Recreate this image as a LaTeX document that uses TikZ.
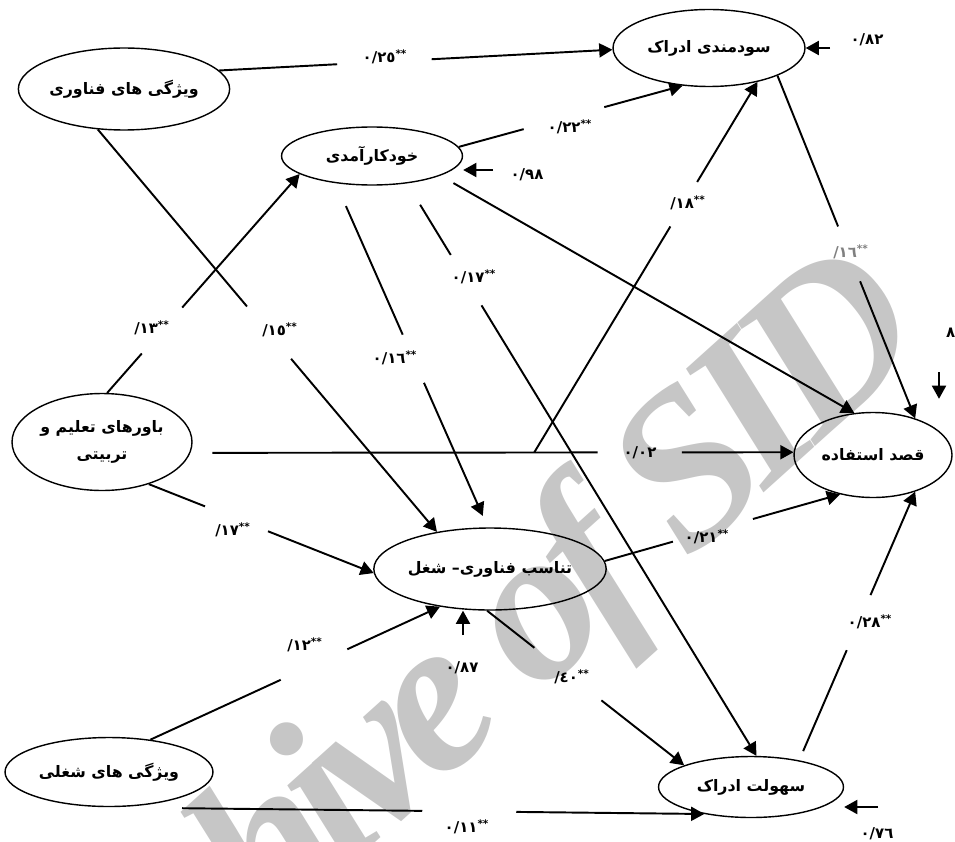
\documentclass[tikz,border=0pt]{standalone}
\usepackage{fontspec}
\usetikzlibrary{shapes.geometric,arrows.meta,calc}
\newfontfamily\fa[Script=Arabic]{DejaVu Sans}
\newfontfamily\wm[LetterSpace=-8]{Liberation Serif}
\TeXXeTstate=1

\begin{document}
\begin{tikzpicture}[x=0.02cm,y=-0.02cm,
    latent/.style={ellipse, draw=black, line width=0.8pt, inner sep=0pt, align=center,
      font=\fa\bfseries\fontsize{9}{11}\selectfont},
    coef/.style={inner sep=1pt, font=\fa\bfseries\fontsize{8.5}{10}\selectfont},
    link/.style={line width=1.1pt},
    linkarr/.style={line width=1.1pt, -{Triangle[length=7.5pt,width=8pt]}}]
\useasboundingbox (0,0) rectangle (955,841);

% watermark
\node[text=gray!45, rotate=42, font=\wm\bfseries\itshape\fontsize{125}{125}\selectfont] (wmark) at (462,692) {Archive of SID};

% constructs
\node[latent, minimum width=4.2cm, minimum height=1.64cm] (tech) at (124,89) {\beginR ویژگی های فناوری\endR};
\node[latent, minimum width=3.62cm, minimum height=1.16cm] (se) at (372,156) {\beginR خودکارآمدی\endR};
\node[latent, minimum width=3.84cm, minimum height=1.54cm] (su) at (709,48) {\beginR سودمندی ادراک\endR};
\node[latent, minimum width=3.6cm, minimum height=1.94cm] (bel) at (102,442) {\beginR باورهای تعلیم و\endR\\[4pt]\beginR تربیتی\endR};
\node[latent, minimum width=3.16cm, minimum height=1.7cm] (int) at (873,455) {\beginR قصد استفاده\endR};
\node[latent, minimum width=3.88cm, minimum height=1.64cm] (tfit) at (490,569) {\beginR تناسب فناوری– شغل\endR};
\node[latent, minimum width=4.16cm, minimum height=1.38cm] (jobch) at (109,772) {\beginR ویژگی های شغلی\endR};
\node[latent, minimum width=3.7cm, minimum height=1.22cm] (ease) at (751,787) {\beginR سهولت ادراک\endR};

% path coefficients
\node[coef] (c25) at (385,57) {٠/٢٥\textsuperscript{**}};
\node[coef] (c22) at (570,127) {٠/٢٢\textsuperscript{**}};
\node[coef] (c13) at (152,328) {\mbox{/}١٣\textsuperscript{**}};
\node[coef] (c15) at (280,330) {\mbox{/}١٥\textsuperscript{**}};
\node[coef] (c16a) at (395,358) {٠/١٦\textsuperscript{**}};
\node[coef] (c17a) at (474,277) {٠/١٧\textsuperscript{**}};
\node[coef] (c18) at (688,203) {\mbox{/}١٨\textsuperscript{**}};
\node[coef, text=gray] (c16b) at (851,252) {\mbox{/}١٦\textsuperscript{**}};
\node[coef] (c02) at (640,453) {٠/٠٢};
\node[coef] (c17b) at (233,530) {\mbox{/}١٧\textsuperscript{**}};
\node[coef] (c21) at (707,537) {٠/٢١\textsuperscript{**}};
\node[coef] (c12) at (305,645) {\mbox{/}١٢\textsuperscript{**}};
\node[coef] (c40) at (572,677) {\mbox{/}٤٠\textsuperscript{**}};
\node[coef] (c28) at (870,622) {٠/٢٨\textsuperscript{**}};
\node[coef] (c11) at (467,827) {٠/١١\textsuperscript{**}};

% residuals
\node[coef] (r82) at (867,40) {٠/٨٢};
\node[coef] (r98) at (527,175) {٠/٩٨};
\node[coef] (r87) at (462,668) {٠/٨٧};
\node[coef] (r76) at (877,834) {٠/٧٦};
\node[coef, anchor=west] (r8) at (944,333) {٨};

% paths
\draw[link] (tech.11) -- ($(tech.11)!.30!(su.181)$);
\draw[linkarr] ($(tech.11)!.54!(su.181)$) -- (su.181);
\draw[link] (se.6) -- ($(se.6)!.29!(su.235)$);
\draw[linkarr] ($(se.6)!.65!(su.235)$) -- (su.235);
\draw[link] (bel.84) -- ($(bel.84)!.18!(se.194)$);
\draw[linkarr] ($(bel.84)!.39!(se.194)$) -- (se.194);
\draw[link] (tech.237) -- ($(tech.237)!.44!(tfit.145)$);
\draw[linkarr] ($(tech.237)!.57!(tfit.145)$) -- (tfit.145);
\draw[link, shorten <=0.5cm] (se.217) -- ($(se.217)!.44!(tfit.93)$);
\draw[linkarr, shorten >=0.25cm] ($(se.217)!.58!(tfit.93)$) -- (tfit.93);
\draw[link, shorten <=0.5cm] (se.322) -- ($(se.322)!.125!(ease.80)$);
\draw[linkarr] ($(se.322)!.213!(ease.80)$) -- (ease.80);
\draw[linkarr, shorten <=0.3cm] (se.344) -- (int.114);
\draw[link, shorten <=0.44cm] (bel.353) -- ($(bel.353)!.675!(int.178)$);
\draw[linkarr] ($(bel.353)!.815!(int.178)$) -- (int.178);
\coordinate (fork) at ($(bel.353)!.57!(int.178)$);
\draw[link] (fork) -- ($(fork)!.61!(su.325)$);
\draw[linkarr] ($(fork)!.73!(su.325)$) -- (su.325);
\draw[link] (bel.318) -- ($(bel.318)!.25!(tfit.182)$);
\draw[linkarr] ($(bel.318)!.53!(tfit.182)$) -- (tfit.182);
\draw[link] (tfit.4) -- ($(tfit.4)!.29!(int.230)$);
\draw[linkarr] ($(tfit.4)!.63!(int.230)$) -- (int.230);
\draw[link] (jobch.38) -- ($(jobch.38)!.45!(tfit.217)$);
\draw[linkarr] ($(jobch.38)!.68!(tfit.217)$) -- (tfit.217);
\draw[link] (tfit.266) -- ($(tfit.266)!.24!(ease.162)$);
\draw[linkarr] ($(tfit.266)!.58!(ease.162)$) -- (ease.162);
\draw[link, shorten <=0.2cm] (ease.29) -- ($(ease.29)!.41!(int.319)$);
\draw[linkarr] ($(ease.29)!.615!(int.319)$) -- (int.319);
\draw[link] (su.338) -- ($(su.338)!.44!(int.41)$);
\draw[linkarr] ($(su.338)!.60!(int.41)$) -- (int.41);
\coordinate (jbase) at ([shift={(73,1)}]jobch.south);
\draw[link] (jbase) -- ($(jbase)!.46!(ease.210)$);
\draw[linkarr] ($(jbase)!.64!(ease.210)$) -- (ease.210);

% error terms
\coordinate (e82) at (830,48);
\draw[linkarr] (e82) -- (su.east);
\coordinate (e98) at (493,170);
\draw[linkarr] (e98) -- (se.east |- e98);
\coordinate (e87) at (463,635);
\draw[linkarr] (e87) -- (tfit.south -| e87);
\coordinate (e76) at (878,807);
\draw[linkarr] (e76) -- (ease.east |- e76);
\coordinate (e80) at (939,372);
\draw[linkarr, shorten >=0.26cm] (e80) -- (e80 |- int.north);
\end{tikzpicture}
\end{document}
